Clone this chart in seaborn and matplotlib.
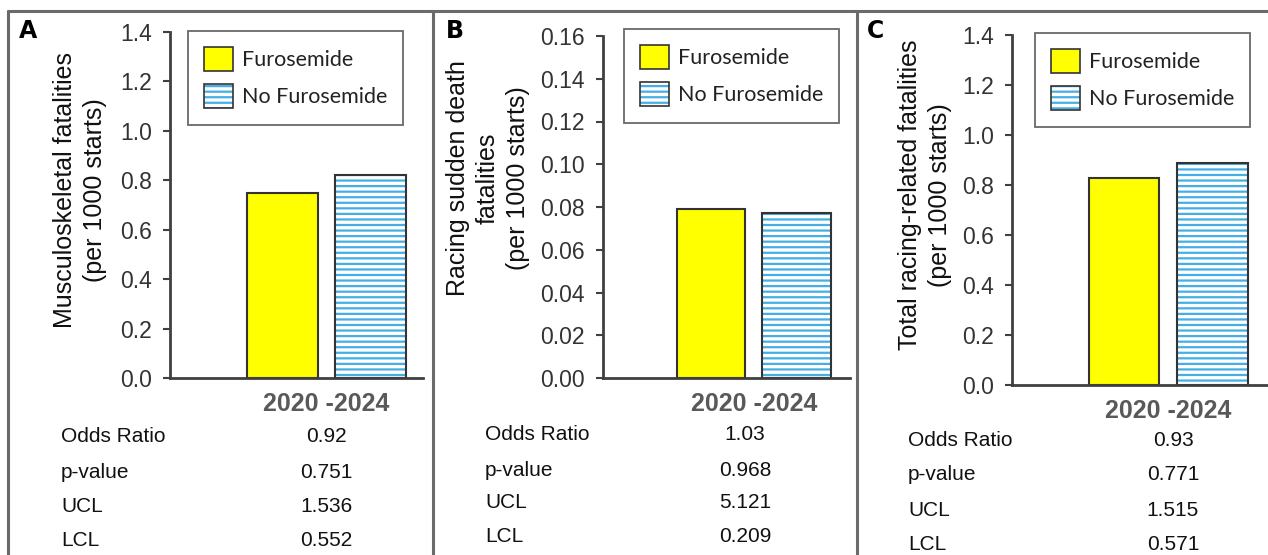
import matplotlib
matplotlib.use("Agg")
import matplotlib.pyplot as plt
import seaborn as sns
import pandas as pd
from matplotlib.patches import Patch, Rectangle
from matplotlib.lines import Line2D

# ---------------- data ----------------
period = "2020 -2024"
groups = ["Furosemide", "No Furosemide"]
musculoskeletal = [0.75, 0.82]
sudden_death = [0.079, 0.077]
total_related = [0.83, 0.89]

panel_letters = ["A", "B", "C"]
ylabels = ["Musculoskeletal fatalities\n(per 1000 starts)",
           "Racing sudden death\nfatalities\n(per 1000 starts)",
           "Total racing-related fatalities\n(per 1000 starts)"]
ymax = [1.4, 0.16, 1.4]
ystep = [0.2, 0.02, 0.2]
yfmt = ["{:.1f}", "{:.2f}", "{:.1f}"]

stat_names = ["Odds Ratio", "p-value", "UCL", "LCL"]
stats_A = ["0.92", "0.751", "1.536", "0.552"]
stats_B = ["1.03", "0.968", "5.121", "0.209"]
stats_C = ["0.93", "0.771", "1.515", "0.571"]

values = [musculoskeletal, sudden_death, total_related]
stats = [stats_A, stats_B, stats_C]

# ---------------- style ----------------
sns.set_theme(style="white")
plt.rcParams["font.family"] = ["Liberation Sans", "DejaVu Sans"]
plt.rcParams["hatch.linewidth"] = 1.6

W, H = 1268, 555
fig = plt.figure(figsize=(W / 100, H / 100), dpi=100)
fig.patch.set_facecolor("white")

YELLOW = "#FFFF00"
BLUE = "#45AEE6"
DARK = "#333333"
AXC = "#404040"


def fx(x):
    return x / W


def fy(y):
    return 1 - y / H


# layout in pixels: axes left, right, top, bottom ; xlim ; label coords
layout = [
    dict(l=170, r=423, t=32, b=378, xlim=(-0.711, 0.439), lab=(-0.356, 0.543),
         leg=(188, 31), letter=(19, 31), tab_l=61, tab_v=326, rows=[437, 472, 506, 540]),
    dict(l=603, r=850, t=36, b=378, xlim=(-0.705, 0.450), lab=(-0.466, 0.585),
         leg=(624, 29), letter=(446, 31), tab_l=485, tab_v=745, rows=[435, 470, 503, 537]),
    dict(l=1012, r=1268, t=35, b=385, xlim=(-0.707, 0.451), lab=(-0.34, 0.543),
         leg=(1035, 33), letter=(867, 31), tab_l=908, tab_v=1173, rows=[440, 475, 510, 545]),
]

for i, L in enumerate(layout):
    ax = fig.add_axes([fx(L["l"]), fy(L["b"]), (L["r"] - L["l"]) / W, (L["b"] - L["t"]) / H])
    df = pd.DataFrame({"period": [period, period], "group": groups, "value": values[i]})
    sns.barplot(data=df, x="period", y="value", hue="group", hue_order=groups,
                palette={"Furosemide": YELLOW, "No Furosemide": "white"}, saturation=1,
                gap=0.2, edgecolor=DARK, linewidth=1.5, legend=False, ax=ax)
    bars = [p for p in ax.patches]
    hb = bars[1]
    hb.set_edgecolor(BLUE)
    hb.set_hatch("---")
    hb.set_linewidth(0)
    ax.add_patch(Rectangle((hb.get_x(), hb.get_y()), hb.get_width(), hb.get_height(),
                           fill=False, edgecolor=DARK, lw=1.5, zorder=hb.get_zorder() + 0.1))

    ax.set_xlim(*L["xlim"])
    ax.set_ylim(0, ymax[i])
    n = int(round(ymax[i] / ystep[i]))
    ticks = [k * ystep[i] for k in range(n + 1)]
    ax.set_yticks(ticks)
    ax.set_yticklabels([yfmt[i].format(t) for t in ticks])
    ax.tick_params(axis="y", direction="out", length=5, width=1.5, color=AXC,
                   labelsize=16.5, labelcolor="#333333", pad=8, left=True)
    ax.tick_params(axis="x", length=0, pad=10, labelsize=18, labelcolor="#595959")
    for t in ax.get_xticklabels():
        t.set_fontweight("bold")
    ax.set_xlabel("")
    ax.set_ylabel(ylabels[i], fontsize=18, color="#111111", linespacing=1.3)
    ax.yaxis.label.set_va("center")
    ax.yaxis.set_label_coords(*L["lab"])
    for s in ["top", "right"]:
        ax.spines[s].set_visible(False)
    for s in ["left", "bottom"]:
        ax.spines[s].set_color(AXC)
        ax.spines[s].set_linewidth(2)
    ax.set_facecolor("none")

    # legend
    h1 = Patch(facecolor=YELLOW, edgecolor=DARK, lw=1.2)
    h2a = Patch(facecolor="white", edgecolor=BLUE, hatch="---", lw=0)
    h2b = Patch(facecolor="none", edgecolor=DARK, lw=1.2)
    leg = ax.legend([h1, (h2a, h2b)], groups, loc="upper left",
                    bbox_to_anchor=(fx(L["leg"][0]), fy(L["leg"][1])),
                    bbox_transform=fig.transFigure,
                    prop={"family": ["Lato", "DejaVu Sans"], "size": 15.5},
                    frameon=True, fancybox=False, edgecolor="#444444",
                    handlelength=1.35, handleheight=1.35, handletextpad=0.4,
                    borderpad=0.75, labelspacing=0.6, borderaxespad=0)
    leg.get_frame().set_linewidth(1.3)
    for t in leg.get_texts():
        t.set_color("#222222")

    # panel letter
    fig.text(fx(L["letter"][0]), fy(L["letter"][1]), panel_letters[i], fontsize=17,
             fontweight="heavy", family=["DejaVu Sans"], va="center", ha="left", color="black")

    # stats table
    for name, val, y in zip(stat_names, stats[i], L["rows"]):
        fig.text(fx(L["tab_l"]), fy(y), name, fontsize=15, va="center", ha="left", color="#111111")
        fig.text(fx(L["tab_v"]), fy(y), val, fontsize=15, va="center", ha="center", color="#111111")

# panel borders
border_kw = dict(color="#6a6a6a", lw=2.2, transform=fig.transFigure, clip_on=False)
fig.add_artist(Line2D([fx(8), fx(W)], [fy(11), fy(11)], **border_kw))
for xb in [8, 433, 857]:
    fig.add_artist(Line2D([fx(xb), fx(xb)], [fy(11), 0], **border_kw))

fig.savefig("out.png", dpi=100)
